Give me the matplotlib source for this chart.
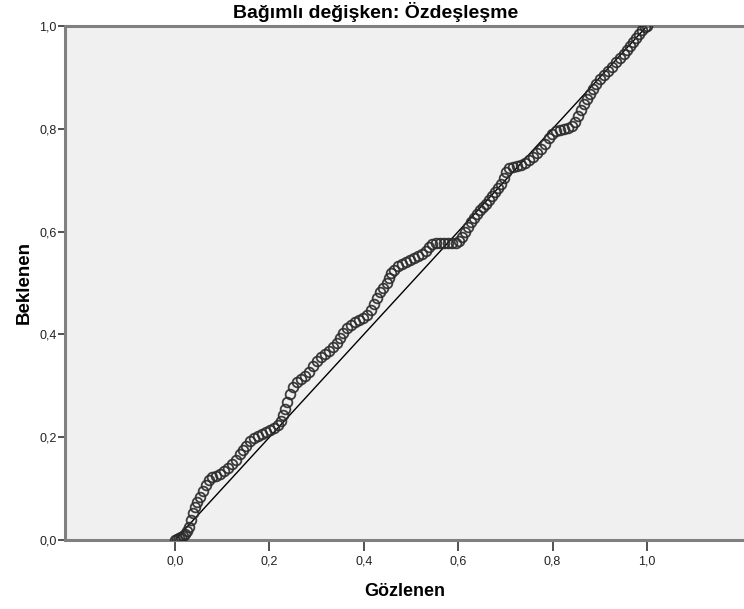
import matplotlib
matplotlib.use("Agg")
import matplotlib.pyplot as plt

gozlenen = [0.000, 0.004, 0.008, 0.013, 0.017, 0.021, 0.025, 0.030, 0.034, 0.038,
            0.042, 0.047, 0.053, 0.059, 0.066, 0.072, 0.078, 0.087, 0.095, 0.104,
            0.112, 0.121, 0.129, 0.138, 0.144, 0.150, 0.159, 0.167, 0.176, 0.184,
            0.193, 0.201, 0.210, 0.218, 0.225, 0.229, 0.233, 0.237, 0.244, 0.250,
            0.258, 0.267, 0.275, 0.284, 0.292, 0.301, 0.309, 0.318, 0.326, 0.335,
            0.343, 0.350, 0.356, 0.364, 0.373, 0.381, 0.390, 0.398, 0.407, 0.415,
            0.422, 0.428, 0.434, 0.441, 0.449, 0.453, 0.458, 0.464, 0.472, 0.481,
            0.489, 0.498, 0.506, 0.515, 0.523, 0.532, 0.538, 0.544, 0.553, 0.561,
            0.570, 0.578, 0.587, 0.595, 0.602, 0.608, 0.614, 0.621, 0.627, 0.633,
            0.640, 0.646, 0.653, 0.659, 0.665, 0.672, 0.678, 0.684, 0.691, 0.697,
            0.701, 0.708, 0.716, 0.725, 0.733, 0.742, 0.750, 0.758, 0.767, 0.775,
            0.784, 0.792, 0.799, 0.808, 0.816, 0.825, 0.833, 0.841, 0.847, 0.854,
            0.860, 0.866, 0.873, 0.879, 0.886, 0.892, 0.900, 0.909, 0.917, 0.926,
            0.934, 0.943, 0.951, 0.958, 0.964, 0.970, 0.977, 0.983, 0.989, 0.996,
            1.000]
beklenen = [0.000, 0.002, 0.004, 0.006, 0.008, 0.012, 0.018, 0.025, 0.039, 0.053,
            0.064, 0.074, 0.084, 0.095, 0.107, 0.117, 0.123, 0.125, 0.128, 0.134,
            0.140, 0.148, 0.156, 0.167, 0.175, 0.183, 0.193, 0.198, 0.202, 0.206,
            0.210, 0.214, 0.218, 0.224, 0.232, 0.243, 0.255, 0.268, 0.284, 0.298,
            0.307, 0.313, 0.319, 0.327, 0.339, 0.348, 0.356, 0.362, 0.368, 0.375,
            0.383, 0.393, 0.403, 0.412, 0.418, 0.424, 0.428, 0.432, 0.438, 0.447,
            0.459, 0.471, 0.482, 0.490, 0.500, 0.510, 0.519, 0.525, 0.533, 0.537,
            0.541, 0.545, 0.549, 0.552, 0.556, 0.562, 0.570, 0.576, 0.578, 0.578,
            0.578, 0.578, 0.578, 0.578, 0.582, 0.589, 0.599, 0.609, 0.619, 0.626,
            0.634, 0.642, 0.648, 0.654, 0.661, 0.669, 0.677, 0.685, 0.693, 0.704,
            0.716, 0.724, 0.726, 0.728, 0.730, 0.734, 0.740, 0.745, 0.753, 0.761,
            0.770, 0.782, 0.790, 0.796, 0.798, 0.800, 0.802, 0.805, 0.813, 0.825,
            0.837, 0.848, 0.858, 0.868, 0.877, 0.887, 0.897, 0.905, 0.912, 0.920,
            0.930, 0.938, 0.946, 0.953, 0.961, 0.969, 0.977, 0.984, 0.992, 0.998,
            1.000]

ref_line = [0.0, 1.0]
x_ticks = [0.0, 0.2, 0.4, 0.6, 0.8, 1.0]
x_tick_labels = ["0,0", "0,2", "0,4", "0,6", "0,8", "1,0"]
y_ticks = [0.0, 0.2, 0.4, 0.6, 0.8, 1.0]
y_tick_labels = ["0,0", "0,2", "0,4", "0,6", "0,8", "1,0"]

plt.rcParams['font.family'] = ['Liberation Sans', 'DejaVu Sans']

fig = plt.figure(figsize=(7.44, 6.09), dpi=100)
ax = fig.add_axes([65/744, 69/609, (744 - 65)/744, 514/609])
ax.set_facecolor('#f0f0f0')

ax.plot(ref_line, ref_line, color='black', lw=1.0, zorder=2)
ax.plot(gozlenen, beklenen, linestyle='none', marker='o', markersize=7.0,
        markerfacecolor='none', markeredgecolor='#2a2a2a', markeredgewidth=1.3,
        alpha=0.9, zorder=3)

ax.set_xlim(-0.2331, 1.2055)
ax.set_ylim(0.0, 1.0)
ax.set_xticks(x_ticks)
ax.set_xticklabels(x_tick_labels)
ax.set_yticks(y_ticks)
ax.set_yticklabels(y_tick_labels)
ax.tick_params(axis='x', direction='out', length=8, width=1.2, color='#333333',
               labelsize=9, pad=3, labelcolor='#222222')
ax.tick_params(axis='y', direction='out', length=5, width=1.2, color='#333333',
               labelsize=9, pad=1, labelcolor='#222222')

for side in ['left', 'bottom', 'top']:
    ax.spines[side].set_color('#808080')
    ax.spines[side].set_linewidth(2.2)
ax.spines['right'].set_visible(False)

ax.set_xlabel('Gözlenen', fontsize=13, fontweight='bold', labelpad=11)
ax.set_ylabel('Beklenen', fontsize=13.5, fontweight='bold', labelpad=5)
fig.text(376/744, 1 - 12/609, 'Bağımlı değişken: Özdeşleşme', ha='center', va='center',
         fontsize=14, fontweight='bold')

fig.savefig('out.png', dpi=100)
